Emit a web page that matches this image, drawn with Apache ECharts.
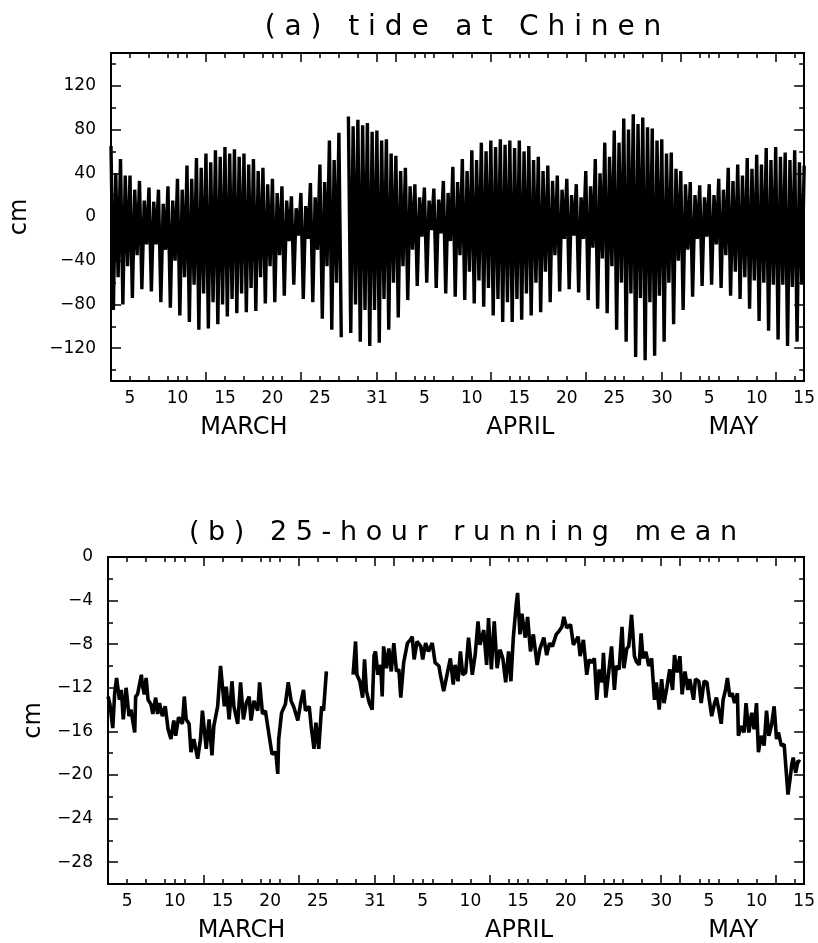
<!DOCTYPE html>
<html>
<head>
<meta charset="utf-8">
<script src="https://cdn.jsdelivr.net/npm/echarts@6/dist/echarts.min.js"></script>
<style>
html,body{margin:0;padding:0;background:#fff;}
#chart{width:818px;height:943px;}
</style>
</head>
<body>
<div id="chart"></div>
<script>
// ---------------- data (day numbers: March d = d, April d = 31+d, May d = 61+d) ----------------
const axisMinDay = 3;
const axisMaxDay = 76;

// x-axis tick labels
const xLabelDays = [5, 10, 15, 20, 25, 31, 36, 41, 46, 51, 56, 61, 66, 71, 76];
const xLabelText = ['5', '10', '15', '20', '25', '31', '5', '10', '15', '20', '25', '30', '5', '10', '15'];
const xMinorTickDays = [3,5,7,9,11,13,15,17,19,21,23,25,27,29,31,33,35,37,39,41,43,45,47,49,51,53,55,57,59,61,63,65,67,69,71,73,75];
const xLongTickDays = [3, 13, 23, 31, 33, 43, 53, 61, 63, 73];
const monthNames = ['MARCH', 'APRIL', 'MAY'];
const monthCenterDays = [17.0, 46.1, 68.55];

// panel (a) y ticks
const tideMajorTicks = [-120, -80, -40, 0, 40, 80, 120];
const tideMinorTicks = [-140, -100, -60, -20, 20, 60, 100, 140];
// panel (b) y ticks
const meanMajorTicks = [-28, -24, -20, -16, -12, -8, -4, 0];
const meanMinorTicks = [-30, -26, -22, -18, -14, -10, -6, -2];

// panel (a): tide extremes per day (cm), first day = March 3; order within a day: HH, LL, LH, HL
const tideFirstDay = 3;
const tideHH = [65,53,38,33,27,25,28,35,47,54,58,61,64,62,58,53,45,35,28,19,22,31,48,70,77,92,89,86,79,71,56,45,30,27,26,33,46,53,61,68,70,71,70,70,65,55,47,38,35,30,42,53,68,79,90,94,91,81,71,59,42,32,29,30,35,45,48,54,57,63,64,59,61,47];
const tideLL = [-85,-80,-74,-66,-68,-78,-83,-90,-96,-103,-102,-98,-91,-88,-87,-86,-79,-78,-72,-62,-75,-78,-93,-103,-110,-106,-114,-118,-115,-103,-92,-76,-63,-60,-65,-70,-73,-76,-79,-82,-90,-96,-96,-94,-90,-87,-78,-68,-66,-69,-76,-84,-88,-103,-114,-128,-131,-127,-114,-98,-85,-73,-63,-62,-65,-72,-75,-84,-95,-104,-112,-118,-114];
const tideLH = [40,38,25,15,14,12,15,25,35,45,50,55,58,55,48,42,30,22,15,8,10,18,32,52,null,83,84,78,70,58,42,28,18,15,16,22,32,42,52,60,64,66,63,60,52,42,33,25,20,18,28,40,55,68,80,85,82,70,58,44,30,20,18,20,25,33,38,44,48,52,55,52,50];
const tideHL = [-55,-45,-35,-25,-25,-30,-40,-55,-62,-70,-78,-80,-75,-70,-65,-55,-45,-35,-22,-17,-20,-30,-45,-60,null,-80,-85,-85,-75,-60,-45,-30,-18,-12,-15,-22,-35,-50,-58,-65,-75,-78,-75,-70,-60,-50,-35,-20,-17,-20,-28,-38,-45,-60,-70,-74,-78,-72,-60,-40,-30,-20,-18,-25,-35,-50,-55,-58,-60,-62,-62,-64,-62];

// panel (b): 25-hour running mean (cm), two segments separated by a data gap
const meanDaysA = [3.0,3.2,3.5,3.7,3.9,4.2,4.4,4.6,4.9,5.1,5.2,5.4,5.8,5.9,6.1,6.5,6.6,6.8,7.0,7.2,7.5,7.7,8.0,8.2,8.4,8.7,9.0,9.3,9.6,9.9,10.1,10.4,10.8,11.0,11.2,11.5,11.7,12.0,12.4,12.7,12.9,13.3,13.6,13.9,14.1,14.5,14.8,15.0,15.2,15.4,15.7,16.0,16.2,16.6,16.9,17.2,17.5,17.8,18.0,18.3,18.7,18.9,19.2,19.5,19.9,20.2,20.6,20.8,20.9,21.2,21.6,21.9,22.2,22.5,22.9,23.2,23.5,23.7,24.1,24.3,24.6,24.8,25.1,25.4,25.6,25.9];
const meanValsA = [-12.8,-13.5,-15.7,-12.5,-11.1,-13.1,-12.2,-14.9,-12.0,-11.9,-14.6,-14.0,-16.1,-12.8,-12.6,-10.8,-11.7,-12.6,-11.1,-13.1,-13.5,-14.4,-12.9,-14.4,-13.4,-14.6,-13.7,-15.8,-16.7,-15.0,-16.4,-14.7,-15.3,-12.8,-14.9,-15.3,-17.9,-16.7,-18.5,-16.7,-14.1,-17.6,-14.9,-18.2,-15.5,-13.7,-10.0,-9.9,-13.7,-11.9,-14.9,-11.4,-13.7,-15.3,-11.5,-14.9,-13.4,-12.8,-15.0,-13.2,-14.1,-11.5,-14.4,-14.1,-16.4,-18.1,-17.9,-19.9,-16.7,-14.3,-13.5,-11.5,-13.2,-13.8,-15.0,-13.4,-12.2,-14.1,-13.7,-15.5,-17.6,-15.2,-17.6,-13.7,-14.1,-10.5];
const meanDaysB = [28.7,28.96,29.1,29.4,29.7,29.9,30.1,30.4,30.7,30.9,31.05,31.3,31.6,31.75,31.9,32.2,32.45,32.7,32.97,33.25,33.5,33.7,34.0,34.4,34.7,34.9,35.1,35.4,35.8,36.0,36.3,36.6,37.0,37.3,37.7,37.85,38.2,38.55,38.9,39.2,39.4,39.7,39.95,40.2,40.5,40.8,41.2,41.5,41.8,42.0,42.4,42.7,42.9,43.2,43.5,43.8,44.1,44.4,44.7,45.0,45.25,45.5,45.8,45.95,46.2,46.4,46.75,47.0,47.3,47.6,48.0,48.3,48.7,49.0,49.3,49.6,50.0,50.3,50.6,50.8,51.1,51.5,51.8,52.0,52.3,52.5,52.85,53.2,53.45,53.7,54.0,54.25,54.5,54.8,54.95,55.2,55.5,55.8,56.1,56.3,56.6,56.9,57.1,57.4,57.6,57.9,58.2,58.4,58.7,58.9,59.1,59.4,59.7,60.0,60.3,60.5,60.8,61.05,61.3,61.6,61.9,62.2,62.4,62.7,62.97,63.2,63.5,63.8,64.0,64.4,64.6,64.95,65.2,65.5,65.8,66.0,66.3,66.6,66.8,67.05,67.3,67.5,67.75,67.95,68.2,68.45,68.7,69.0,69.1,69.4,69.7,69.9,70.2,70.5,70.75,71.0,71.2,71.5,71.8,72.05,72.3,72.6,72.85,73.1,73.3,73.6,73.9,74.1,74.3,74.5,74.7,74.85,75.1,75.35,75.6];
const meanValsB = [-10.8,-7.75,-10.8,-11.4,-12.9,-9.4,-12.3,-13.4,-14.0,-9.0,-8.66,-10.8,-9.9,-12.8,-8.2,-10.2,-8.4,-10.5,-7.9,-10.5,-10.3,-12.9,-9.7,-7.9,-7.6,-7.3,-9.4,-7.75,-8.2,-9.4,-7.9,-8.66,-7.9,-9.7,-10.0,-10.8,-12.3,-10.8,-9.3,-11.7,-9.9,-11.4,-8.66,-10.8,-10.6,-7.4,-10.8,-9.0,-5.9,-8.05,-6.7,-9.9,-5.6,-10.3,-5.9,-10.2,-8.5,-9.3,-11.5,-8.66,-11.4,-7.4,-4.4,-3.3,-7.1,-5.2,-7.4,-5.5,-8.66,-7.1,-9.9,-8.4,-7.4,-9.0,-7.9,-8.2,-7.1,-6.8,-6.4,-5.5,-6.5,-6.2,-8.05,-8.2,-7.3,-9.1,-7.6,-10.8,-9.4,-9.7,-9.3,-13.1,-10.3,-11.5,-8.8,-12.9,-10.6,-8.2,-12.2,-10.0,-10.3,-6.4,-10.2,-8.4,-8.2,-5.3,-9.1,-9.6,-9.9,-7.0,-9.3,-8.7,-10.0,-9.3,-13.1,-11.5,-14.0,-11.2,-13.4,-12.0,-10.3,-12.2,-9.0,-10.6,-9.1,-12.6,-10.5,-12.2,-11.2,-13.1,-11.2,-11.4,-13.4,-11.4,-11.5,-12.8,-14.6,-13.4,-12.9,-14.0,-15.3,-13.1,-12.2,-11.1,-12.8,-12.5,-13.4,-12.5,-16.4,-15.5,-16.1,-13.4,-16.1,-14.3,-15.8,-13.4,-17.9,-16.4,-17.3,-14.1,-16.4,-15.3,-13.7,-16.7,-16.1,-17.3,-17.2,-19.5,-21.8,-20.5,-19.0,-18.4,-19.8,-18.7,-18.8];

// ---------------- build series data ----------------
const tideData = [];
for (let i = 0; i < tideHH.length; i++) {
  const d = tideFirstDay + i;
  const vals = [tideHH[i], tideLL[i], tideLH[i], tideHL[i]];
  for (let k = 0; k < 4; k++) {
    if (k > 0 && i >= tideLL.length) break;
    tideData.push([d + k * 0.25, vals[k] === null ? null : vals[k]]);
  }
}
const meanData = [];
meanDaysA.forEach((d, i) => meanData.push([d, meanValsA[i]]));
meanData.push([(meanDaysA[meanDaysA.length - 1] + meanDaysB[0]) / 2, null]);
meanDaysB.forEach((d, i) => meanData.push([d, meanValsB[i]]));

// ---------------- styling helpers ----------------
const FONT = 'DejaVu Sans';
const INK = '#000';
const spaced = s => s.split(' ').map(w => w.split('').join(' ')).join('   ');
const minusFmt = v => (v < 0 ? '\u2212' + (-v) : String(v));
const frameLine = { show: true, onZero: false, lineStyle: { color: INK, width: 2 } };
const noLine = { show: false, onZero: false };

function makeXAxes(gi) {
  const base = {
    gridIndex: gi, type: 'value', min: axisMinDay, max: axisMaxDay,
    splitLine: { show: false }, axisLabel: { show: false }, axisTick: { show: false }, axisLine: noLine
  };
  const shortTicks = xMinorTickDays.concat(xLabelDays);
  return [
    Object.assign({}, base, {
      position: 'bottom', axisLine: frameLine,
      axisTick: { show: true, inside: true, length: 5, customValues: shortTicks, lineStyle: { color: INK, width: 1.5 } },
      axisLabel: { show: true, customValues: xLabelDays, formatter: v => xLabelText[xLabelDays.indexOf(v)],
        margin: 9, fontSize: 17, fontFamily: FONT, color: INK }
    }),
    Object.assign({}, base, {
      position: 'bottom',
      axisTick: { show: true, inside: true, length: 9, customValues: xLongTickDays, lineStyle: { color: INK, width: 1.5 } }
    }),
    Object.assign({}, base, {
      position: 'top', axisLine: frameLine,
      axisTick: { show: true, inside: true, length: 5, customValues: shortTicks, lineStyle: { color: INK, width: 1.5 } }
    }),
    Object.assign({}, base, {
      position: 'top',
      axisTick: { show: true, inside: true, length: 9, customValues: xLongTickDays, lineStyle: { color: INK, width: 1.5 } }
    }),
    Object.assign({}, base, {
      position: 'bottom',
      axisLabel: { show: true, customValues: monthCenterDays, formatter: v => monthNames[monthCenterDays.indexOf(v)],
        margin: 35, fontSize: 24, fontFamily: FONT, color: INK }
    })
  ];
}

function makeYAxes(gi, min, max, majors, minors, nameGap) {
  const base = {
    gridIndex: gi, type: 'value', min: min, max: max,
    splitLine: { show: false }, axisLabel: { show: false }, axisTick: { show: false }, axisLine: noLine
  };
  return [
    Object.assign({}, base, {
      position: 'left', axisLine: frameLine,
      name: 'cm', nameLocation: 'middle', nameRotate: 90, nameGap: nameGap,
      nameTextStyle: { fontSize: 24, fontFamily: FONT, color: INK },
      axisTick: { show: true, inside: true, length: 10, customValues: majors, lineStyle: { color: INK, width: 1.5 } },
      axisLabel: { show: true, customValues: majors, formatter: minusFmt, margin: 15, fontSize: 17, fontFamily: FONT, color: INK }
    }),
    Object.assign({}, base, {
      position: 'left',
      axisTick: { show: true, inside: true, length: 5, customValues: minors, lineStyle: { color: INK, width: 1.5 } }
    }),
    Object.assign({}, base, {
      position: 'right', axisLine: frameLine,
      axisTick: { show: true, inside: true, length: 10, customValues: majors, lineStyle: { color: INK, width: 1.5 } }
    }),
    Object.assign({}, base, {
      position: 'right',
      axisTick: { show: true, inside: true, length: 5, customValues: minors, lineStyle: { color: INK, width: 1.5 } }
    })
  ];
}

const chart = echarts.init(document.getElementById('chart'), null, { renderer: 'canvas' });
chart.setOption({
  animation: false,
  backgroundColor: '#fff',
  title: [
    { text: spaced('(a) tide at Chinen'), left: 458, top: 9, textAlign: 'center',
      textStyle: { fontSize: 28, fontWeight: 'normal', fontFamily: FONT, color: INK } },
    { text: spaced('(b) 25-hour running mean'), left: 458, top: 514, textAlign: 'center',
      textStyle: { fontSize: 27, fontWeight: 'normal', fontFamily: FONT, color: INK } }
  ],
  grid: [
    { left: 107, top: 53, width: 699, height: 328 },
    { left: 108, top: 557, width: 699, height: 329 }
  ],
  xAxis: makeXAxes(0).concat(makeXAxes(1)),
  yAxis: makeYAxes(0, -150, 150, tideMajorTicks, tideMinorTicks, 79)
    .concat(makeYAxes(1, -30, 0, meanMajorTicks, meanMinorTicks, 57)),
  series: [
    { name: 'tide at Chinen', type: 'line', xAxisIndex: 0, yAxisIndex: 0, data: tideData,
      showSymbol: false, symbol: 'none', connectNulls: false,
      lineStyle: { color: INK, width: 3.4, join: 'miter', miterLimit: 2 } },
    { name: '25-hour running mean', type: 'line', xAxisIndex: 5, yAxisIndex: 4, data: meanData,
      showSymbol: false, symbol: 'none', connectNulls: false,
      lineStyle: { color: INK, width: 3.6 } }
  ]
});
</script>
</body>
</html>
